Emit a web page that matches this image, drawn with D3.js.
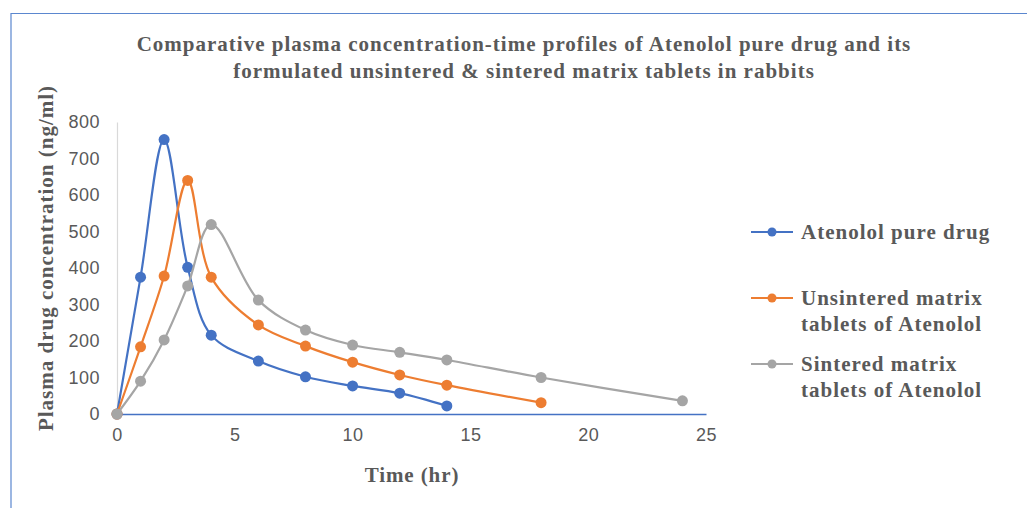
<!DOCTYPE html>
<html>
<head>
<meta charset="utf-8">
<script src="https://cdn.jsdelivr.net/npm/d3@7"></script>
<style>
  body { margin: 0; background: #fff; }
  svg { display: block; }
</style>
</head>
<body>
<svg id="chart" width="1027" height="508"></svg>
<script>
// time points (hr)
const timePure = [0, 1, 2, 3, 4, 6, 8, 10, 12, 14];
const timeUnsintered = [0, 1, 2, 3, 4, 6, 8, 10, 12, 14, 18];
const timeSintered = [0, 1, 2, 3, 4, 6, 8, 10, 12, 14, 18, 24];

// plasma concentration (ng/ml)
const concPure = [0, 375, 752, 402, 216, 145, 102, 77, 57, 22];
const concUnsintered = [0, 184, 378, 640, 375, 244, 186, 142, 107, 79, 31];
const concSintered = [0, 90, 203, 351, 519, 312, 230, 189, 169, 148, 100, 36];

const seriesNames = ["Atenolol pure drug", "Unsintered matrix tablets of Atenolol", "Sintered matrix tablets of Atenolol"];
const legendLines = [["Atenolol pure drug"], ["Unsintered matrix", "tablets of Atenolol"], ["Sintered matrix", "tablets of Atenolol"]];
const seriesColors = ["#4472C4", "#ED7D31", "#A5A5A5"];

const xTicks = [0, 5, 10, 15, 20, 25];
const yTicks = [0, 100, 200, 300, 400, 500, 600, 700, 800];

const titleLines = ["Comparative plasma concentration-time profiles of Atenolol pure drug and its",
                    "formulated unsintered & sintered matrix tablets in rabbits"];

const series = [
    { name: seriesNames[0], color: seriesColors[0], values: timePure.map((t, i) => ({ t: t, c: concPure[i] })) },
    { name: seriesNames[1], color: seriesColors[1], values: timeUnsintered.map((t, i) => ({ t: t, c: concUnsintered[i] })) },
    { name: seriesNames[2], color: seriesColors[2], values: timeSintered.map((t, i) => ({ t: t, c: concSintered[i] })) }
];

const svg = d3.select("#chart");
const serif = "'Liberation Serif', 'DejaVu Serif', serif";
const sans = "'Liberation Sans', 'Open Sans', sans-serif";
const textGray = "#595959";

// outer frame (only top and left edges show)
svg.append("path")
    .attr("d", "M11,508 V13.5 H1027")
    .attr("fill", "none")
    .attr("stroke", "#5B87CF")
    .attr("stroke-width", 1.2);

// scales
let x = d3.scaleLinear().domain([0, 25]).range([117, 706]);
let y = d3.scaleLinear().domain([0, 800]).range([414, 122]);

// title
svg.append("g").selectAll("text")
    .data(titleLines)
    .enter().append("text")
    .attr("x", 524)
    .attr("y", (d, i) => 51 + i * 27)
    .attr("text-anchor", "middle")
    .attr("font-family", serif)
    .attr("font-weight", "bold")
    .attr("font-size", 21)
    .attr("fill", textGray)
    .attr("letter-spacing", 1.0)
    .text(d => d);

// y axis
let yAxis = svg.append("g")
    .attr("transform", `translate(${x(0)},0)`)
    .call(d3.axisLeft(y).tickValues(yTicks).tickSize(0).tickPadding(17));
yAxis.select(".domain").attr("stroke", "#D9D9D9").attr("stroke-width", 1.2);
yAxis.selectAll("text")
    .attr("font-family", sans)
    .attr("font-size", 18)
    .attr("letter-spacing", 0.5)
    .attr("fill", textGray);

// x axis
let xAxis = svg.append("g")
    .attr("transform", `translate(0,${y(0)})`)
    .call(d3.axisBottom(x).tickValues(xTicks).tickSize(0).tickPadding(14));
xAxis.select(".domain").attr("stroke", "#4472C4").attr("stroke-width", 1.3);
xAxis.selectAll("text")
    .attr("font-family", sans)
    .attr("font-size", 18)
    .attr("letter-spacing", 0.5)
    .attr("fill", textGray);

// axis titles
svg.append("text")
    .attr("transform", "translate(53,258) rotate(-90)")
    .attr("text-anchor", "middle")
    .attr("font-family", serif)
    .attr("font-weight", "bold")
    .attr("font-size", 21)
    .attr("letter-spacing", 1.0)
    .attr("fill", textGray)
    .text("Plasma drug concentration (ng/ml)");

svg.append("text")
    .attr("x", 412)
    .attr("y", 482)
    .attr("text-anchor", "middle")
    .attr("font-family", serif)
    .attr("font-weight", "bold")
    .attr("font-size", 21)
    .attr("letter-spacing", 0.9)
    .attr("fill", textGray)
    .text("Time (hr)");

// smoothed lines, like the spreadsheet's smooth line option
let line = d3.line()
    .x(d => x(d.t))
    .y(d => y(d.c))
    .curve(d3.curveCatmullRom.alpha(0.5));

let seriesG = svg.append("g").selectAll("g")
    .data(series)
    .enter().append("g");

seriesG.append("path")
    .attr("d", d => line(d.values))
    .attr("fill", "none")
    .attr("stroke", d => d.color)
    .attr("stroke-width", 2.2);

seriesG.selectAll("circle")
    .data(d => d.values.map(v => ({ t: v.t, c: v.c, color: d.color })))
    .enter().append("circle")
    .attr("cx", d => x(d.t))
    .attr("cy", d => y(d.c))
    .attr("r", 5.5)
    .attr("fill", d => d.color);

// legend
const legendY = [232, 298, 364];
let legend = svg.append("g").selectAll("g")
    .data(series)
    .enter().append("g")
    .attr("transform", (d, i) => `translate(751,${legendY[i]})`);

legend.append("line")
    .attr("x1", 0).attr("x2", 42)
    .attr("stroke", d => d.color)
    .attr("stroke-width", 2.2);
legend.append("circle")
    .attr("cx", 21)
    .attr("r", 4.5)
    .attr("fill", d => d.color);

legend.each(function (d, i) {
    d3.select(this).selectAll("text")
        .data(legendLines[i])
        .enter().append("text")
        .attr("x", 50)
        .attr("y", (t, j) => 7 + j * 26)
        .attr("font-family", serif)
        .attr("font-weight", "bold")
        .attr("font-size", 21)
        .attr("letter-spacing", 1.0)
        .attr("fill", textGray)
        .text(t => t);
});
</script>
</body>
</html>
